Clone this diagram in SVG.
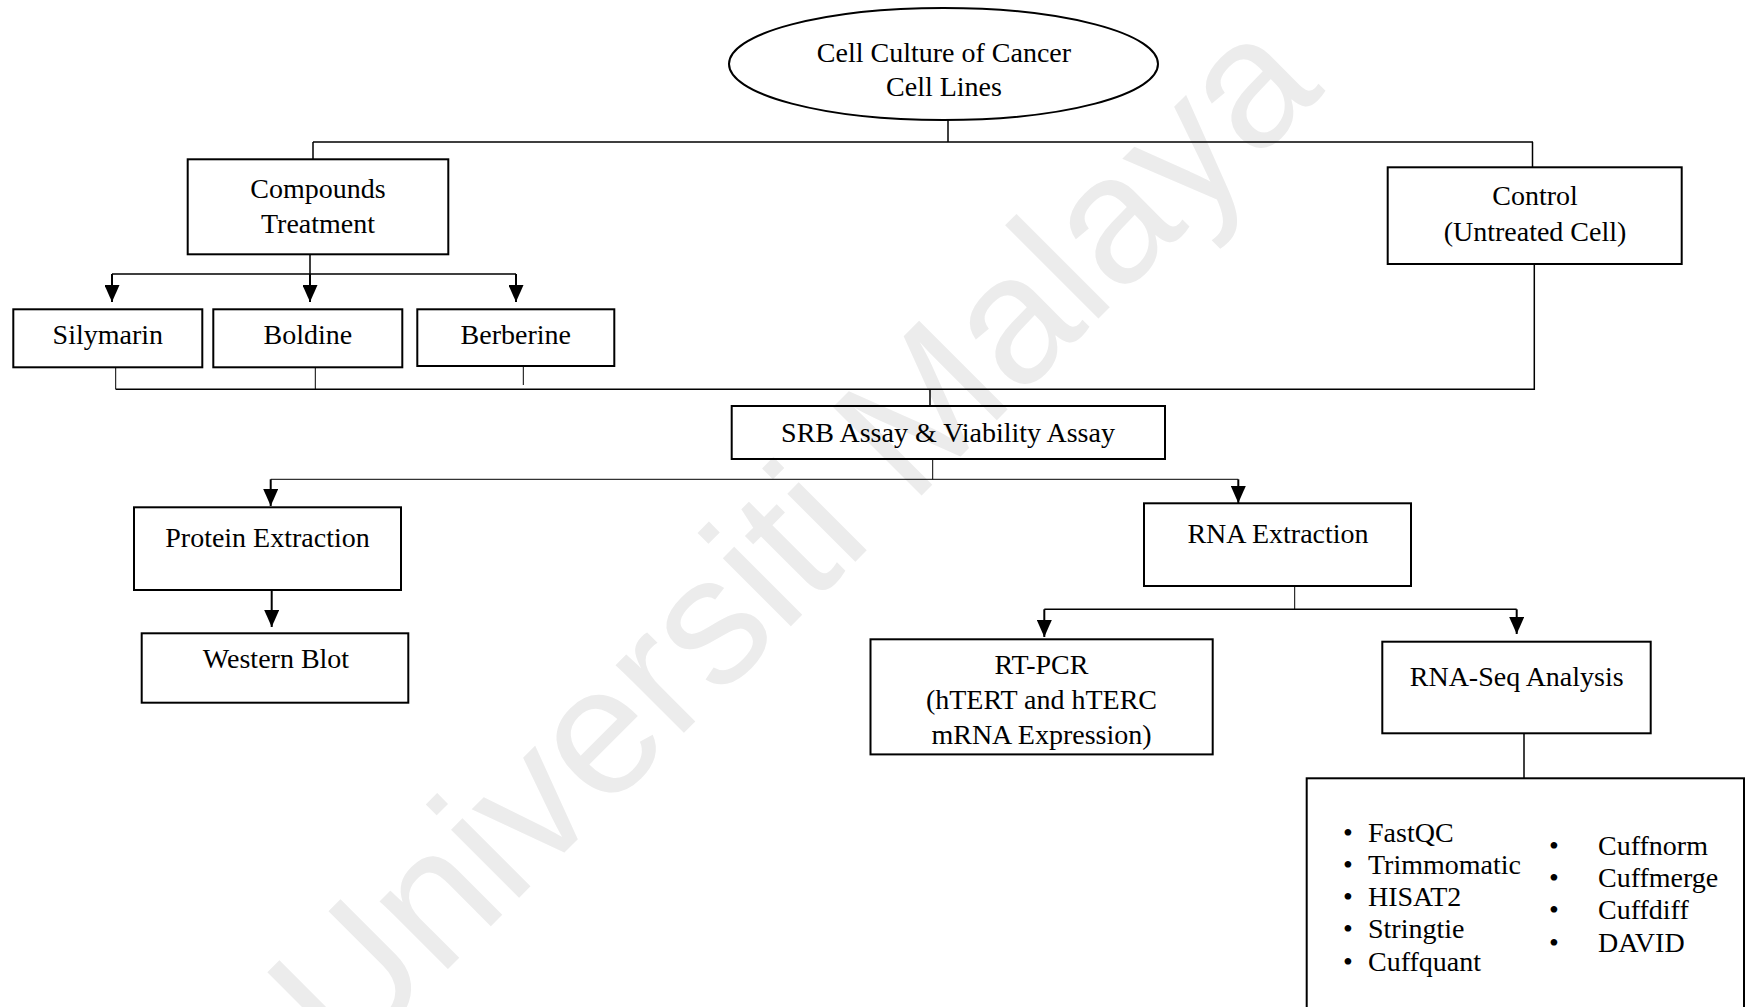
<svg xmlns="http://www.w3.org/2000/svg" width="1750" height="1007" viewBox="0 0 1750 1007">
<style>
.bg{fill:#ffffff}
.box{fill:none;stroke:#000;stroke-width:2}
.ln{fill:none;stroke:#000;stroke-width:1.5}
.thin{fill:none;stroke:#000;stroke-width:1}
.ar{fill:none;stroke:#000;stroke-width:2;marker-end:url(#ah)}
.t{font-family:"Liberation Serif","Times New Roman",serif;font-size:28px;fill:#000;text-anchor:middle}
.l{font-family:"Liberation Serif","Times New Roman",serif;font-size:28px;fill:#000}
.wm{font-family:"Liberation Sans",Arial,sans-serif;font-size:182px;fill:#ececec;text-anchor:middle}
</style>
<defs>
<marker id="ah" markerUnits="userSpaceOnUse" markerWidth="17" markerHeight="15" refX="17" refY="7.5" orient="auto">
<path d="M0,0 L17,7.5 L0,15 z" fill="#000"/>
</marker>
</defs>
<rect class="bg" x="0" y="0" width="1750" height="1007"/>
<text class="wm" transform="translate(790,535) rotate(-45)" y="65">Universiti Malaya</text>

<g id="connectors">
<path class="ln" d="M948,120 V142"/>
<path class="ln" d="M313,142 H1533 M313,142 V159 M1532.5,142 V167"/>
<path class="ln" d="M310,254 V274 M112,274 H516"/>
<path class="ar" d="M112,274 V302"/>
<path class="ar" d="M310,274 V302"/>
<path class="ar" d="M516,274 V302"/>
<path class="thin" d="M115.7,367 V389.3 M315.3,367 V389.3 M523.3,366 V385"/>
<path class="ln" d="M115.7,389.3 H1534.3 V264"/>
<path class="ln" d="M930,389.3 V406"/>
<path class="thin" d="M932.7,459 V479.3"/>
<path class="thin" d="M270.7,479.3 H1238.3"/>
<path class="ar" d="M270.7,479.3 V506"/>
<path class="ar" d="M1238.3,479.3 V503"/>
<path class="ar" d="M271.7,590 V627"/>
<path class="thin" d="M1294.7,586 V609.3"/>
<path class="ln" d="M1044.3,609.3 H1516.7"/>
<path class="ar" d="M1044.3,609.3 V637"/>
<path class="ar" d="M1516.7,609.3 V634"/>
<path class="ln" d="M1524,733.3 V778.3"/>
</g>

<g id="cell-culture">
<ellipse class="box" cx="943.5" cy="64" rx="214.5" ry="56"/>
<text class="t" x="944" y="62">Cell Culture of Cancer</text>
<text class="t" x="944" y="96">Cell Lines</text>
</g>

<g id="compounds">
<rect class="box" x="187.7" y="159.3" width="260.6" height="95"/>
<text class="t" x="318" y="198">Compounds</text>
<text class="t" x="318" y="233">Treatment</text>
</g>

<g id="control">
<rect class="box" x="1387.7" y="167.3" width="294" height="96.7"/>
<text class="t" x="1535" y="205">Control</text>
<text class="t" x="1535" y="241">(Untreated Cell)</text>
</g>

<g id="silymarin">
<rect class="box" x="13.3" y="309.3" width="189" height="58"/>
<text class="t" x="107.8" y="344">Silymarin</text>
</g>

<g id="boldine">
<rect class="box" x="213.3" y="309.3" width="189" height="58"/>
<text class="t" x="307.8" y="344">Boldine</text>
</g>

<g id="berberine">
<rect class="box" x="417.3" y="309.3" width="197" height="56.7"/>
<text class="t" x="515.8" y="344">Berberine</text>
</g>

<g id="srb">
<rect class="box" x="731.7" y="406" width="433.3" height="53"/>
<text class="t" x="948" y="442">SRB Assay &amp; Viability Assay</text>
</g>

<g id="protein">
<rect class="box" x="134" y="507.3" width="267" height="82.7"/>
<text class="t" x="267.5" y="547">Protein Extraction</text>
</g>

<g id="western">
<rect class="box" x="141.7" y="633.3" width="266.6" height="69.4"/>
<text class="t" x="276" y="668">Western Blot</text>
</g>

<g id="rna-extraction">
<rect class="box" x="1144" y="503.3" width="267" height="82.7"/>
<text class="t" x="1278" y="543">RNA Extraction</text>
</g>

<g id="rt-pcr">
<rect class="box" x="870.5" y="639.3" width="342.2" height="115.1"/>
<text class="t" x="1041.5" y="674">RT-PCR</text>
<text class="t" x="1041.5" y="709">(hTERT and hTERC</text>
<text class="t" x="1041.5" y="744">mRNA Expression)</text>
</g>

<g id="rna-seq">
<rect class="box" x="1382.3" y="641.7" width="268.4" height="91.6"/>
<text class="t" x="1516.7" y="686">RNA-Seq Analysis</text>
</g>

<g id="tools">
<rect class="box" x="1306.7" y="778.3" width="437.3" height="250"/>
<text class="l" x="1343" y="842">•</text>
<text class="l" x="1368" y="842">FastQC</text>
<text class="l" x="1343" y="874">•</text>
<text class="l" x="1368" y="874">Trimmomatic</text>
<text class="l" x="1343" y="906">•</text>
<text class="l" x="1368" y="906">HISAT2</text>
<text class="l" x="1343" y="938">•</text>
<text class="l" x="1368" y="938">Stringtie</text>
<text class="l" x="1343" y="971">•</text>
<text class="l" x="1368" y="971">Cuffquant</text>
<text class="l" x="1549" y="855">•</text>
<text class="l" x="1598" y="855">Cuffnorm</text>
<text class="l" x="1549" y="887">•</text>
<text class="l" x="1598" y="887">Cuffmerge</text>
<text class="l" x="1549" y="919">•</text>
<text class="l" x="1598" y="919">Cuffdiff</text>
<text class="l" x="1549" y="952">•</text>
<text class="l" x="1598" y="952">DAVID</text>
</g>
</svg>
